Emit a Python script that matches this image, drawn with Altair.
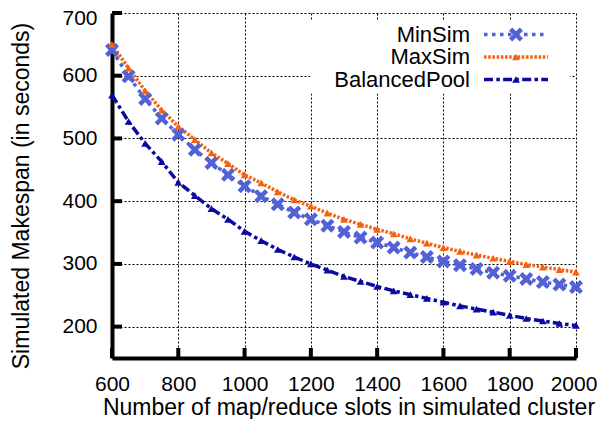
import altair as alt
import pandas as pd
import math

slots = list(range(600, 2001, 50))
min_sim = [641, 599, 563, 532, 506, 482, 461, 442, 424, 408, 395, 382, 371, 361,
           351, 342, 334, 326, 318, 311, 304, 298, 292, 286, 281, 276, 271, 267, 263]
max_sim = [650, 612, 576, 545, 519, 498, 477, 460, 442, 429, 415, 402, 392, 381,
           371, 363, 355, 348, 340, 333, 326, 320, 314, 309, 304, 299, 295, 291, 287]
balanced = [569, 527, 492, 463, 430, 409, 388, 371, 352, 337, 323, 311, 300, 290,
            280, 272, 264, 257, 251, 245, 239, 233, 228, 223, 218, 213, 209, 205, 202]

series_names = ["MinSim", "MaxSim", "BalancedPool"]
marker_keys = [n + " marker" for n in series_names]
colors = ["#5361d6", "#f5620f", "#0a0aa0"]
dashes = [[3.5, 4.5], [2.5, 1.7], [9, 3.3, 3.5, 3.3]]

x_ticks = [600, 800, 1000, 1200, 1400, 1600, 1800, 2000]
y_ticks = [200, 300, 400, 500, 600, 700]

FONT = "Liberation Sans"

# X-shaped marker path (rotated plus), in symbol units
def x_marker(half_len=1.975, half_w=0.58):
    h, L = half_w, half_len
    pts = [(-h, -L), (h, -L), (h, -h), (L, -h), (L, h), (h, h), (h, L), (-h, L),
           (-h, h), (-L, h), (-L, -h), (-h, -h)]
    c = math.sqrt(0.5)
    rp = [((x - y) * c, (x + y) * c) for x, y in pts]
    return "M" + "L".join(f"{x:.3f},{y:.3f}" for x, y in rp) + "Z"

shapes = [x_marker(), "triangle-up", "triangle-up"]

rows = []
for name, key, vals in zip(series_names, marker_keys, [min_sim, max_sim, balanced]):
    for s, v in zip(slots, vals):
        rows.append({"slots": s, "makespan": v, "series": name, "series_m": key})
df = pd.DataFrame(rows)

xscale = alt.Scale(domain=[600, 2000], nice=False, zero=False)
yscale = alt.Scale(domain=[150, 700], nice=False, zero=False)

LEG_X = 198
LEG_Y = 7.5

# legend with the line samples (labels right-aligned to the left of them)
leg_lines = alt.Legend(
    title=None, orient="none", legendX=LEG_X, legendY=LEG_Y,
    symbolType="M-5.33,0L5.33,0M7.3,0", symbolSize=144, symbolStrokeWidth=3.5,
    labelAlign="right", labelOffset={"expr": "-57"}, symbolOffset=192,
    fillColor="white", padding=3, rowPadding=0.5,
    labelFont=FONT, labelFontSize=22, labelColor="black", labelLimit=300,
)
# legend with the markers, laid over the centre of the line samples
leg_marks = alt.Legend(
    title=None, orient="none", legendX=LEG_X, legendY=LEG_Y,
    symbolSize=60, symbolStrokeWidth=0, symbolOpacity=1,
    symbolOffset=192, padding=3, rowPadding=0.5,
    labelExpr="' '", labelFont=FONT, labelFontSize=22, labelColor="black",
)

x_axis = alt.Axis(
    values=x_ticks, format="d", title="Number of map/reduce slots in simulated cluster",
    grid=True, ticks=False, labelPadding=32, labelBaseline="alphabetic",
    labelOffset={"condition": {"test": "datum.value === 2000", "value": -2.5}, "value": 0},
    labelFontSize=21, titleFontSize=23, titleBaseline="alphabetic",
    titleY=56, titleX=236.5, labelFlush=False,
)
y_axis = alt.Axis(
    values=y_ticks, format="d", title="Simulated Makespan (in seconds)",
    grid=True, ticks=False, labelPadding=15,
    labelOffset={"condition": {"test": "datum.value === 700", "value": 5}, "value": 0},
    labelFontSize=21, titleFontSize=23, titleBaseline="alphabetic",
    titleX=-83.5, titleY=182.5, titleAngle=270,
)

X = alt.X("slots:Q", scale=xscale, axis=x_axis)
Y = alt.Y("makespan:Q", scale=yscale, axis=y_axis)

lines = alt.Chart(df).mark_line(strokeWidth=3.5, strokeCap="butt").encode(
    x=X, y=Y,
    stroke=alt.Stroke("series:N", scale=alt.Scale(domain=series_names, range=colors),
                      legend=leg_lines),
    strokeDash=alt.StrokeDash("series:N", scale=alt.Scale(domain=series_names, range=dashes),
                              legend=leg_lines),
    order="slots:Q",
)

points = alt.Chart(df).mark_point(filled=True, size=60, opacity=1, strokeWidth=0).encode(
    x=X, y=Y,
    fill=alt.Fill("series_m:N", scale=alt.Scale(domain=marker_keys, range=colors),
                  legend=leg_marks),
    shape=alt.Shape("series_m:N", scale=alt.Scale(domain=marker_keys, range=shapes),
                    legend=leg_marks),
)

xt = pd.DataFrame({"slots": x_ticks})
yt = pd.DataFrame({"makespan": y_ticks})
xtick_layer = alt.Chart(xt).mark_rule(color="black", strokeWidth=4).encode(
    x=X, y=alt.value(345), y2=alt.value(335),
)
ytick_layer = alt.Chart(yt).mark_rule(color="black", strokeWidth=4).encode(
    y=Y, x=alt.value(0), x2=alt.value(10),
)

chart = alt.layer(lines, points, xtick_layer, ytick_layer).properties(
    width=464, height=345,
    autosize=alt.AutoSizeParams(type="none"),
    padding={"left": 104, "top": 5, "right": 21, "bottom": 61},
).configure_view(stroke=None).configure_axis(
    domainColor="black", domainWidth=4, gridColor="black", gridDash=[2, 2],
    gridWidth=1, gridOpacity=1, labelFont=FONT, titleFont=FONT,
    labelColor="black", titleColor="black", titleFontWeight="normal",
)

chart.save("out.html", embed_options={"renderer": "svg", "actions": False})
